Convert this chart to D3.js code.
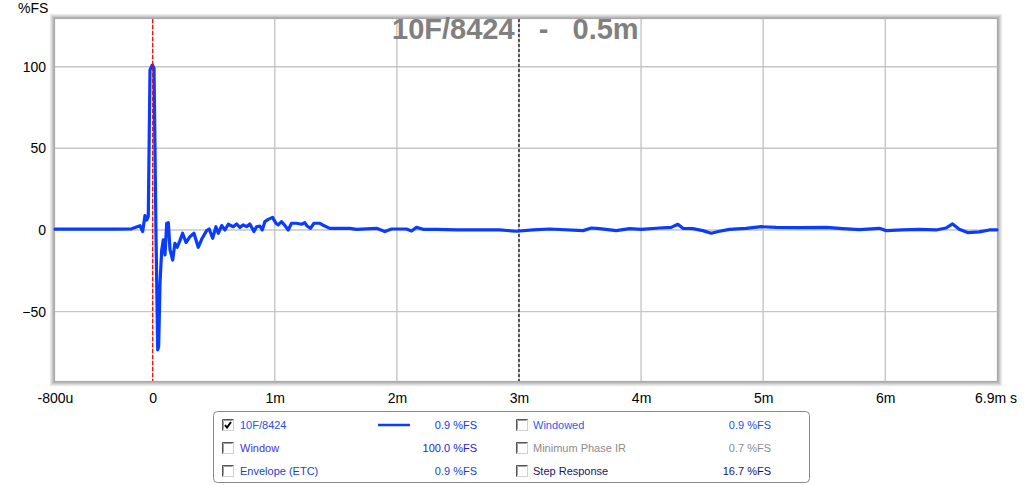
<!DOCTYPE html>
<html><head><meta charset="utf-8">
<script src="https://cdn.jsdelivr.net/npm/d3@7"></script>
<style>
html,body{margin:0;padding:0;background:#fff;}
svg{display:block;font-family:"Liberation Sans",Arial,sans-serif;}
</style></head>
<body><svg id="c" width="1024" height="485"></svg>
<script>
// ---- data ----
const timesMs = [-0.8,-0.5,-0.3,-0.172,-0.104,-0.082,-0.063,-0.049,-0.036,-0.022,-0.003,0.011,0.019,0.027,0.041,0.049,0.060,0.074,0.087,0.101,0.115,0.128,0.142,0.164,0.182,0.201,0.223,0.245,0.273,0.305,0.338,0.373,0.401,0.442,0.463,0.491,0.518,0.537,0.565,0.592,0.619,0.660,0.687,0.714,0.742,0.769,0.796,0.829,0.851,0.878,0.897,0.919,0.946,0.982,1.009,1.028,1.055,1.083,1.110,1.137,1.178,1.219,1.246,1.265,1.293,1.320,1.369,1.396,1.451,1.506,1.615,1.669,1.833,1.901,1.956,2.079,2.12,2.160,2.214,2.324,2.488,2.651,2.842,2.979,3.115,3.251,3.524,3.593,3.660,3.797,3.906,4.002,4.151,4.247,4.301,4.342,4.424,4.506,4.574,4.643,4.724,4.861,4.984,5.106,5.297,5.516,5.651,5.788,5.952,6.007,6.142,6.279,6.416,6.498,6.551,6.606,6.674,6.770,6.852,6.915];
const valuesFS = [0.5,0.5,0.5,0.7,2.6,-1.0,8.8,6.1,8.2,98,101,99,49,-2,-73.4,-71.4,-32.6,-12.2,-6.1,-15.3,4.1,4.5,-12.2,-18.4,-8.2,-10.6,-6.5,-2,-7.7,-4.1,-2,-10.6,-5.7,-0.4,0.6,-5.1,2,-2,2.7,0,3.5,2,3.7,1.6,3.1,2,3.7,-1,2,2.4,0,5.1,6.5,7.7,4.1,3.1,5.1,2.7,0,4.1,4.1,3.5,4.5,2.4,1,4.1,4.1,2.9,1,1,1,0.4,1,-1,0.6,0.6,-0.6,1.6,0.4,0.4,0,0,0,-0.8,0,0.6,-0.4,1.2,0.8,-0.4,0.8,0.4,1.2,1.6,3.5,1,0.8,-0.4,-2,-0.8,0.4,1,2,1.6,1.4,1.6,0.8,0.2,1,-0.4,0,0.4,0,1.2,3.7,0.4,-1.6,-1.2,0,0];
const xTickVals = [-0.8,0,1,2,3,4,5,6];
const xTickLabels = ["-800u","0","1m","2m","3m","4m","5m","6m"];
const yTickVals = [-50,0,50,100];
const markerRedMs = 0;
const markerBlackMs = 3;
const chartTitle = "10F/8424\u00a0\u00a0\u00a0-\u00a0\u00a0\u00a00.5m";
const legendNames = ["10F/8424","Window","Envelope (ETC)","Windowed","Minimum Phase IR","Step Response"];
const legendValues = ["0.9 %FS","100.0 %FS","0.9 %FS","0.9 %FS","0.7 %FS","16.7 %FS"];
const legendChecked = [true,false,false,false,false,false];

// ---- layout ----
const L = 55, R = 997, T = 19, B = 381;
const svg = d3.select("#c");
const x = d3.scaleLinear().domain([-0.8, 6.915]).range([L, R]);
const y = d3.scaleLinear().domain([-92.5, 129.2]).range([B, T]);

// frame (soft gray beveled border)
const frameCols = ["#ececec","#dcdcdc","#cacaca","#b8b8b8","#a8a8a8"];
frameCols.forEach((c,i)=>{
  const o = 5 - i;
  svg.append("rect").attr("x",L-o+0.5).attr("y",T-o+0.5)
    .attr("width",R-L+2*o-1).attr("height",B-T+2*o-1)
    .attr("fill", i===frameCols.length-1 ? "#fff" : "none")
    .attr("stroke",c).attr("stroke-width",1.2);
});

// grid
const g = svg.append("g");
g.selectAll("line.vg").data(xTickVals.filter(v=>v>=0)).enter().append("line")
  .attr("x1",d=>x(d)).attr("x2",d=>x(d)).attr("y1",T).attr("y2",B)
  .attr("stroke","#c6c6c6").attr("stroke-width",1.4);
g.selectAll("line.hg").data(yTickVals).enter().append("line")
  .attr("x1",L).attr("x2",R).attr("y1",d=>y(d)).attr("y2",d=>y(d))
  .attr("stroke","#c6c6c6").attr("stroke-width",1.4);

// axes labels via d3 axes
const xAxis = d3.axisBottom(x).tickValues(xTickVals).tickSize(0).tickPadding(0)
  .tickFormat((d,i)=>xTickLabels[i]);
const xg = svg.append("g").attr("transform",`translate(0,${B+12})`).call(xAxis);
xg.select(".domain").remove();
xg.selectAll("text").attr("font-size",14).attr("fill","#000").attr("font-family","Liberation Sans, Arial, sans-serif");
svg.append("text").attr("x",975).attr("y",B+22).attr("font-size",14).attr("fill","#000").text("6.9m s");

const yAxis = d3.axisLeft(y).tickValues(yTickVals).tickSize(0).tickPadding(0);
const yg = svg.append("g").attr("transform",`translate(46,0)`).call(yAxis);
yg.select(".domain").remove();
yg.selectAll("text").attr("font-size",14).attr("fill","#000").attr("font-family","Liberation Sans, Arial, sans-serif");
svg.append("text").attr("x",18).attr("y",13).attr("font-size",14).attr("fill","#000").text("%FS");

// title
svg.append("text").attr("x",392).attr("y",39).attr("font-size",29).attr("font-weight","bold")
  .attr("fill","#808080").text(chartTitle);

// markers
svg.append("line").attr("x1",x(markerBlackMs)).attr("x2",x(markerBlackMs)).attr("y1",T).attr("y2",B)
  .attr("stroke","#000").attr("stroke-width",1.2).attr("stroke-dasharray","3,2");

// data line
const pts = timesMs.map((t,i)=>[t,valuesFS[i]]);
svg.append("path").datum(pts)
  .attr("d", d3.line().x(d=>x(d[0])).y(d=>y(d[1])))
  .attr("fill","none").attr("stroke","#0a3cff").attr("stroke-width",3.2)
  .attr("stroke-linejoin","round").attr("stroke-linecap","round");
svg.append("line").attr("x1",x(markerRedMs)).attr("x2",x(markerRedMs)).attr("y1",T).attr("y2",B)
  .attr("stroke","#ff0000").attr("stroke-width",1.2).attr("stroke-dasharray","4,2");

// legend
const lg = svg.append("g");
lg.append("rect").attr("x",213.5).attr("y",411.5).attr("width",596).attr("height",71).attr("rx",4)
  .attr("fill","#fff").attr("stroke","#8a8a8a").attr("stroke-width",1);
const nameCols = ["#2850ee","#4a30f0","#1c3fd0","#2a5af5","#8c8c8c","#141470"];
const valCols = ["#1038f0","#2a20d8","#1c3fd0","#2050f0","#8c8c8c","#141470"];
const rowsY = [425,448,471];
legendNames.forEach((n,i)=>{
  const col = i<3?0:1, row = i%3;
  const bx = col===0?222:516, tx = col===0?240:533, vx = col===0?477:771;
  const cy = rowsY[row];
  lg.append("rect").attr("x",bx+0.5).attr("y",cy-5.5).attr("width",11).attr("height",11).attr("fill","#fff")
    .attr("stroke","#d0d0d0");
  lg.append("path").attr("d",`M${bx+0.5},${cy+5.5}V${cy-5.5}H${bx+11.5}`).attr("fill","none").attr("stroke","#555").attr("stroke-width",1);
  lg.append("path").attr("d",`M${bx+1.5},${cy+4.5}V${cy-4.5}H${bx+10.5}`).attr("fill","none").attr("stroke","#a0a0a0").attr("stroke-width",1);
  if(legendChecked[i]){
    lg.append("path").attr("d",`M${bx+3},${cy}L${bx+5},${cy+2.5}L${bx+9},${cy-3}`)
      .attr("fill","none").attr("stroke","#000").attr("stroke-width",2);
  }
  lg.append("text").attr("x",tx).attr("y",cy+4).attr("font-size",11).attr("fill",nameCols[i]).text(n);
  lg.append("text").attr("x",vx).attr("y",cy+4).attr("font-size",11).attr("fill",valCols[i])
    .attr("text-anchor","end").text(legendValues[i]);
});
lg.append("line").attr("x1",378).attr("x2",410).attr("y1",rowsY[0]).attr("y2",rowsY[0])
  .attr("stroke","#0a3cff").attr("stroke-width",2.5);
</script></body></html>
